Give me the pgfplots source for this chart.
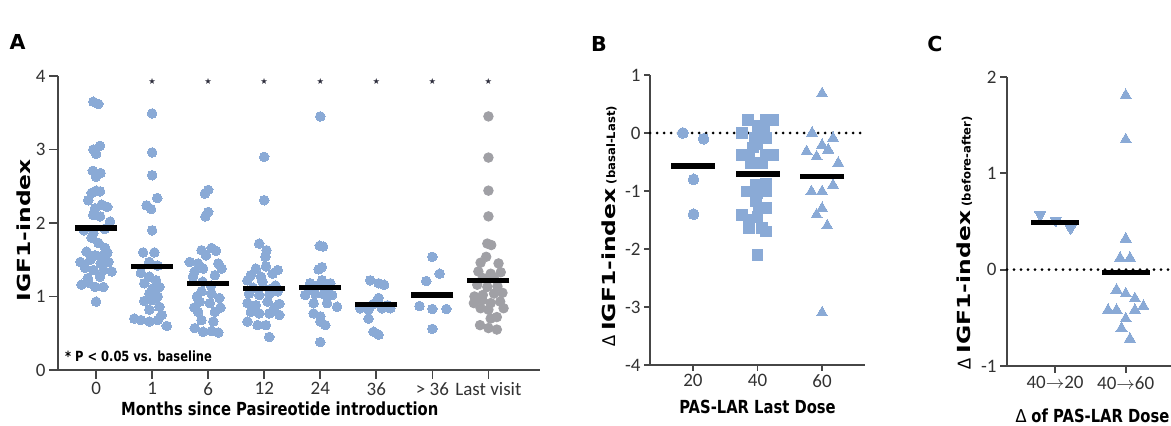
\documentclass[border=0pt]{standalone}
\usepackage{fontspec}
\setmainfont{Carlito}
\newfontfamily\xlab[FakeStretch=0.82]{DejaVu Sans}
\newfontfamily\ylab[FakeStretch=1.3]{DejaVu Sans}
\newfontfamily\plain{DejaVu Sans}
\usepackage{pgfplots}
\pgfplotsset{compat=1.18}
\definecolor{ptblue}{RGB}{138,170,214}
\definecolor{ptgray}{RGB}{160,160,165}
\definecolor{axgray}{RGB}{70,70,70}
\definecolor{tkgray}{RGB}{50,50,50}
\definecolor{stargray}{RGB}{45,45,60}
\pgfplotsset{
  panel/.style={scale only axis, anchor=south west, clip=false,
    axis x line=bottom, axis y line=left,
    axis line style={-, draw=axgray, line width=0.85pt},
    tick style={draw=axgray, line width=0.85pt},
    tick align=outside, minor tick num=0,
    ticklabel style={font=\fontsize{9.5}{10}\selectfont, text=tkgray},
    xticklabel style={inner sep=1.5pt},
    yticklabel style={inner sep=1.5pt}},
  dots/.style={only marks, mark=*, mark size=2.4pt, color=ptblue, mark options={fill=ptblue, draw=ptblue, line width=0pt}},
  meanbar/.style={only marks, mark=-, color=black, mark options={solid}},
  zeroline/.style={black, line width=1.5pt, dash pattern=on 0pt off 3.5pt, line cap=round},
}
\newcommand{\xl}{\xlab\bfseries\fontsize{9}{10}\selectfont}
\newcommand{\yl}{\ylab\bfseries\fontsize{9}{10}\selectfont}
\newcommand{\sm}{\plain\bfseries\fontsize{5.8}{6}\selectfont}
\newcommand{\dl}{\normalfont\fontsize{10}{10}\selectfont}
\begin{document}
\begin{tikzpicture}
% ---------------- Panel A ----------------
\begin{axis}[panel, at={(29pt,28pt)}, width=241pt, height=147pt,
  xmin=-0.68, xmax=7.92, ymin=0, ymax=4,
  ytick={0,1,2,3,4}, yticklabels={0,1,2,3,4},
  xtick={0,1,2,3,4,5,6,7}, xticklabels={0,1,6,12,24,36,> 36,Last visit},
  major tick length=4.5pt,
  xlabel={\xl Months since Pasireotide introduction},
  xlabel style={at={(axis description cs:0.46,-0.156)}, anchor=base},
  ylabel={\yl IGF1-index},
  ylabel style={at={(axis description cs:-0.0705,0.475)}, anchor=center}]
\addplot[dots] coordinates {
(-0.05,3.65) (0.04,3.62) (-0.05,3.00) (0.07,3.05) (0.00,2.94) (-0.06,2.71) (0.08,2.68) (0.00,2.63) (-0.08,2.41) (0.00,2.44) (0.07,2.43) (-0.14,2.31) (0.10,2.25) (-0.02,2.20) (0.20,2.22) (-0.05,2.11) (0.07,2.09) (0.25,2.02) (-0.22,1.90) (-0.05,1.86) (0.15,1.92) (-0.08,1.80) (0.04,1.73) (0.16,1.66) (-0.17,1.61) (-0.02,1.56) (0.20,1.60) (-0.28,1.47) (-0.10,1.50) (0.22,1.47) (0.08,1.45) (-0.20,1.39) (-0.05,1.36) (0.13,1.36) (0.28,1.34) (-0.14,1.19) (-0.26,1.16) (-0.02,1.13) (0.13,1.13) (0.07,1.27) (0.00,0.93) (-0.15,1.25) (0.10,1.55)
};
\addplot[dots] coordinates {
(1.00,3.49) (1.00,2.96) (1.00,2.65) (1.09,2.34) (0.90,2.24) (0.98,2.19) (1.00,1.90) (0.84,1.60) (1.04,1.60) (0.95,1.47) (1.10,1.42) (0.80,1.32) (0.95,1.27) (1.07,1.22) (0.86,1.18) (1.01,1.11) (1.13,1.13) (0.95,1.04) (1.10,1.00) (0.86,0.94) (1.01,0.95) (1.13,0.86) (0.95,0.82) (0.68,0.70) (0.80,0.68) (0.95,0.66) (1.10,0.68) (1.26,0.60) (1.17,0.75)
};
\addplot[dots] coordinates {
(1.94,2.40) (2.00,2.45) (1.95,2.09) (2.00,2.15) (1.88,1.63) (2.06,1.66) (1.96,1.56) (2.14,1.62) (1.67,1.47) (1.82,1.45) (2.18,1.45) (1.76,1.34) (1.91,1.38) (2.24,1.38) (1.73,1.27) (2.12,1.29) (1.90,1.20) (2.05,1.15) (1.88,1.07) (2.06,1.04) (1.85,0.93) (2.03,0.91) (1.82,0.79) (2.12,0.79) (1.88,0.68) (2.09,0.66) (1.76,0.57) (1.91,0.52) (2.06,0.53) (2.18,0.51) (1.80,1.00) (2.20,0.98) (1.75,0.85) (2.22,0.85)
};
\addplot[dots] coordinates {
(3.00,2.90) (3.00,2.31) (2.91,1.72) (3.04,1.63) (3.02,1.54) (2.85,1.38) (3.03,1.41) (3.24,1.36) (2.76,1.29) (2.94,1.27) (3.15,1.31) (2.70,1.22) (2.97,1.20) (2.73,1.04) (2.91,1.02) (3.09,1.03) (3.24,1.07) (2.70,0.91) (2.85,0.88) (3.06,0.93) (3.27,0.90) (2.76,0.79) (2.91,0.77) (3.09,0.77) (3.27,0.75) (2.70,0.66) (2.88,0.61) (3.03,0.61) (3.09,0.45) (3.18,0.85) (2.80,1.12) (3.20,1.15) (3.10,1.10)
};
\addplot[dots] coordinates {
(4.00,3.45) (3.99,1.69) (4.05,1.68) (3.97,1.37) (4.03,1.40) (3.82,1.18) (4.03,1.22) (4.18,1.18) (3.73,1.02) (3.91,1.04) (4.06,1.03) (4.21,1.02) (3.88,0.91) (4.12,0.91) (4.30,0.86) (3.88,0.77) (4.00,0.73) (4.00,0.66) (4.09,0.61) (4.00,0.38) (3.85,1.10) (4.15,1.12) (3.95,1.15)
};
\addplot[dots] coordinates {
(4.89,1.22) (5.04,1.18) (5.14,1.16) (5.04,0.98) (4.71,0.84) (4.86,0.82) (5.25,0.84) (5.10,0.84) (4.86,0.70) (4.95,0.52) (5.04,0.48) (4.95,0.90) (5.20,0.88)
};
\addplot[dots] coordinates {
(6.00,1.54) (6.13,1.31) (5.89,1.21) (5.77,0.87) (6.00,0.83) (6.25,0.83) (6.00,0.56)
};
\addplot[dots, color=ptgray, mark options={fill=ptgray, draw=ptgray}] coordinates {
(7.00,3.45) (7.00,2.89) (7.00,2.44) (7.00,2.09) (6.98,1.72) (7.05,1.70) (6.86,1.46) (6.96,1.54) (7.18,1.45) (6.82,1.34) (7.04,1.31) (7.22,1.33) (6.80,1.16) (6.98,1.13) (7.16,1.14) (7.10,1.04) (6.90,1.02) (6.74,0.91) (6.89,0.95) (7.04,0.91) (7.21,0.93) (7.27,0.84) (6.86,0.84) (7.00,0.82) (7.04,0.70) (7.15,0.72) (6.85,0.61) (7.00,0.57) (7.15,0.55) (6.75,1.00) (7.25,1.05) (7.10,1.25) (6.90,1.25)
};
\addplot[meanbar, mark size=10.5pt, line width=2.7pt] coordinates {
(0,1.93) (1,1.41) (2,1.18) (3,1.11) (4,1.12) (5,0.89) (6,1.02) (7,1.22)
};
\addplot[only marks, mark=text, text mark={\textcolor{stargray}{\plain\fontsize{4.2}{5}\selectfont ★}}] coordinates {
(1,3.93) (2,3.93) (3,3.93) (4,3.93) (5,3.93) (6,3.93) (7,3.93)
};
\node[anchor=base west, inner sep=0pt, font=\xlab\bfseries\fontsize{7}{8}\selectfont] at (axis cs:-0.56,0.11) {* P < 0.05 vs. baseline};
\end{axis}
% ---------------- Panel B ----------------
\begin{axis}[panel, at={(325pt,30.5pt)}, width=107.5pt, height=145pt,
  xmin=6.7, xmax=73.3, ymin=-4, ymax=1,
  ytick={-4,-3,-2,-1,0,1}, yticklabels={-4,-3,-2,-1,0,1},
  xtick={20,40,60}, xticklabels={20,40,60},
  major tick length=3pt,
  xlabel={\xl PAS-LAR Last Dose},
  xlabel style={at={(axis description cs:0.5,-0.166)}, anchor=base},
  ylabel={{\dl Δ} {\yl IGF1-index} {\sm (basal-Last)}},
  ylabel style={at={(axis description cs:-0.191,0.478)}, anchor=center}]
\addplot[zeroline] coordinates {(6.7,0) (73.3,0)};
\addplot[dots, mark size=2.7pt] coordinates {(16.9,0.0) (23.3,-0.10) (20.2,-0.80) (20.2,-1.40)};
\addplot[dots, mark=square*, mark size=2.7pt] coordinates {
(37.0,0.22) (42.6,0.22) (44.9,0.22) (35.3,0.0) (40,0.12) (42.0,0.05) (39.2,-0.09) (42.6,-0.09) (35.3,-0.38) (37.4,-0.38) (42.6,-0.38) (44.9,-0.38) (37.8,-0.52) (41.5,-0.52) (42.6,-0.87) (39.5,-0.90) (36.6,-1.01) (40,-1.04) (42.6,-1.01) (39.5,-1.18) (40.5,-1.30) (42.6,-1.30) (35.3,-1.41) (37.4,-1.50) (40,-1.45) (37.4,-1.64) (41.5,-1.64) (42.6,-1.70) (40,-2.10) (40,-0.20) (38.5,-0.25)
};
\addplot[dots, mark=triangle*, mark size=3.2pt] coordinates {
(60,0.68) (56.9,0.0) (63.4,-0.09) (55.2,-0.32) (60,-0.21) (61.9,-0.29) (58.3,-0.41) (65,-0.52) (56.7,-1.01) (60,-1.01) (63.4,-0.90) (60,-1.30) (58.3,-1.41) (61.6,-1.60) (60,-3.10)
};
\addplot[meanbar, mark size=11pt, line width=2.9pt] coordinates {(20,-0.57) (40,-0.71) (60,-0.75)};
\end{axis}
% ---------------- Panel C ----------------
\begin{axis}[panel, at={(503.5pt,30pt)}, width=85.5pt, height=144.5pt,
  xmin=0.32, xmax=2.74, ymin=-1, ymax=2,
  ytick={-1,0,1,2}, yticklabels={-1,0,1,2},
  xtick={1,2}, xticklabels={40$\rightarrow$20,40$\rightarrow$60},
  major tick length=3.5pt,
  xlabel={{\dl Δ} {\xl of PAS-LAR Dose}},
  xlabel style={at={(axis description cs:0.5,-0.197)}, anchor=base},
  ylabel={{\dl Δ} {\yl IGF1-index} {\sm (before-after)}},
  ylabel style={at={(axis description cs:-0.249,0.427)}, anchor=center}]
\addplot[zeroline] coordinates {(0.32,0) (2.74,0)};
\addplot[dots, mark=triangle*, mark size=3.2pt, mark options={rotate=180, fill=ptblue, draw=ptblue, line width=0pt}] coordinates {(0.79,0.57) (1.01,0.51) (1.22,0.43)};
\addplot[dots, mark=triangle*, mark size=3.2pt] coordinates {
(2,1.81) (2,1.35) (2,0.32) (1.92,0.12) (2.06,0.12) (1.87,-0.21) (2,-0.25) (2.13,-0.30) (1.75,-0.42) (1.87,-0.42) (2.13,-0.42) (2.25,-0.38) (2,-0.51) (1.94,-0.61) (2.06,-0.72)
};
\addplot[meanbar, mark size=12pt, line width=2.9pt] coordinates {(1,0.49) (2,-0.03)};
\end{axis}
% panel letters
\node[font=\plain\bfseries\fontsize{10.3}{11}\selectfont] at (8.75pt,191.75pt) {A};
\node[font=\plain\bfseries\fontsize{10.3}{11}\selectfont] at (299.5pt,190.75pt) {B};
\node[font=\plain\bfseries\fontsize{10.3}{11}\selectfont] at (467.5pt,190.75pt) {C};
\pgfresetboundingbox
\useasboundingbox (0,0) rectangle (585.5pt,213pt);
\end{tikzpicture}
\end{document}
